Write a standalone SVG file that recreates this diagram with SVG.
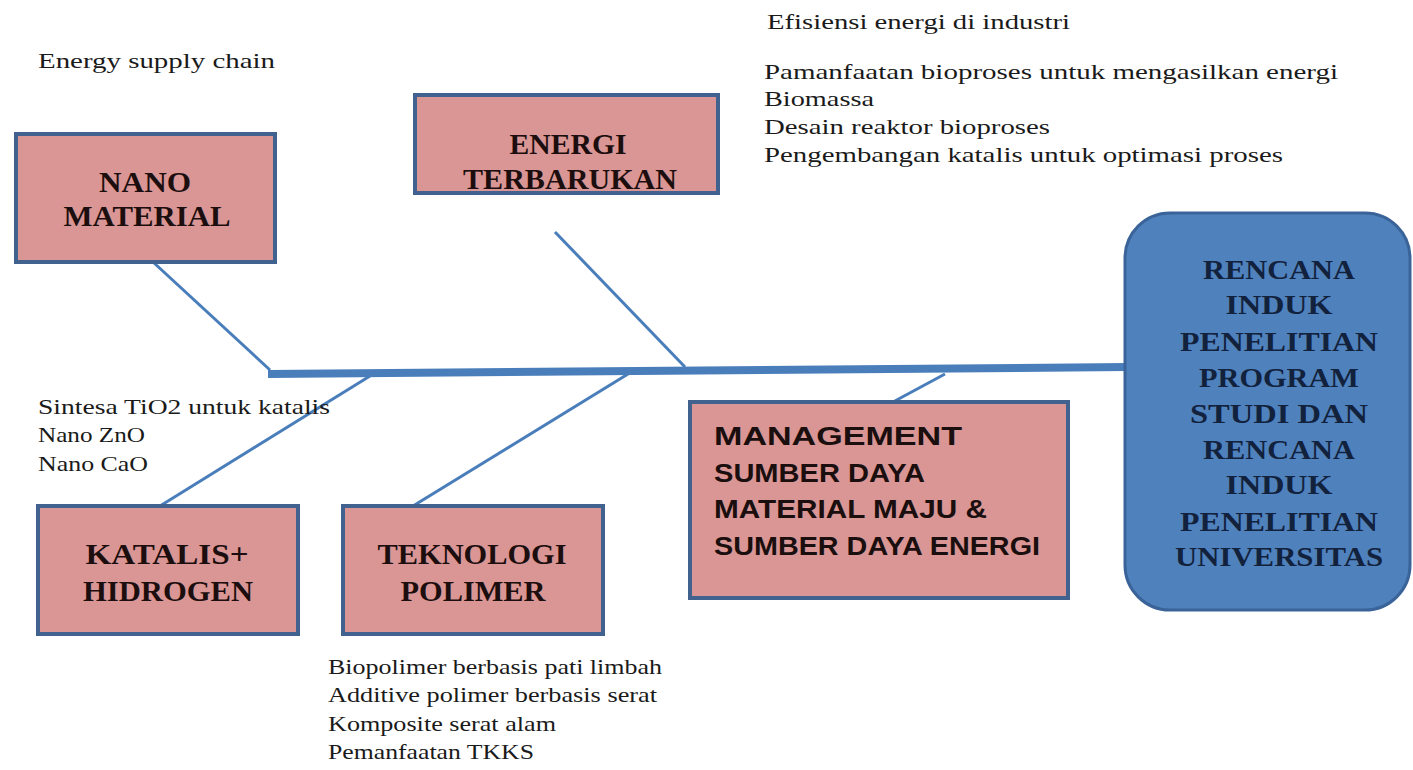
<svg xmlns="http://www.w3.org/2000/svg" width="1413" height="770" viewBox="0 0 1413 770">
<style>
.box{fill:#d99694;stroke:#41628f;stroke-width:4}
.main{fill:#4f81bd;stroke:#3a6499;stroke-width:3}
.bt{font-family:"Liberation Serif",serif;font-weight:bold;font-size:29px;fill:#1c0e0e;text-anchor:middle}
.rt{font-family:"Liberation Serif",serif;font-weight:bold;font-size:27px;fill:#12223c;text-anchor:middle}
.mt{font-family:"Liberation Sans",sans-serif;font-weight:bold;font-size:25px;fill:#1a0e0e}
.lt{font-family:"Liberation Serif",serif;font-size:21px;fill:#1a1a1a}
.bone{stroke:#4a7ebb;stroke-width:3;fill:none}
.spine{stroke:#4a7ebb;stroke-width:8;fill:none}
</style>
<rect width="1413" height="770" fill="#ffffff"/>
<g id="connectors">
<line class="spine" x1="268" y1="374" x2="1127" y2="367"/>
<line class="bone" x1="153" y1="262" x2="270" y2="370"/>
<line class="bone" x1="555" y1="232" x2="685" y2="367"/>
<line class="bone" x1="160" y1="506" x2="370" y2="376"/>
<line class="bone" x1="413" y1="506" x2="628" y2="374"/>
<line class="bone" x1="893" y1="402" x2="945" y2="374"/>
</g>
<g id="nano">
<rect class="box" x="16" y="134" width="259" height="128"/>
<text class="bt" x="145" y="192" textLength="92" lengthAdjust="spacingAndGlyphs">NANO</text>
<text class="bt" x="147" y="226" textLength="167" lengthAdjust="spacingAndGlyphs">MATERIAL</text>
</g>
<g id="energi">
<rect class="box" x="415" y="95" width="303" height="98"/>
<text class="bt" x="568" y="154" textLength="117" lengthAdjust="spacingAndGlyphs">ENERGI</text>
<text class="bt" x="570" y="189" textLength="214" lengthAdjust="spacingAndGlyphs">TERBARUKAN</text>
</g>
<g id="katalis">
<rect class="box" x="38" y="506" width="260" height="128"/>
<text class="bt" x="167" y="564" textLength="163" lengthAdjust="spacingAndGlyphs">KATALIS+</text>
<text class="bt" x="168" y="601" textLength="170" lengthAdjust="spacingAndGlyphs">HIDROGEN</text>
</g>
<g id="teknologi">
<rect class="box" x="343" y="506" width="260" height="128"/>
<text class="bt" x="472" y="564" textLength="189" lengthAdjust="spacingAndGlyphs">TEKNOLOGI</text>
<text class="bt" x="473" y="601" textLength="145" lengthAdjust="spacingAndGlyphs">POLIMER</text>
</g>
<g id="management">
<rect class="box" x="690" y="402" width="378" height="196"/>
<text class="mt" x="714" y="445" textLength="248" lengthAdjust="spacingAndGlyphs">MANAGEMENT</text>
<text class="mt" x="714" y="482" textLength="211" lengthAdjust="spacingAndGlyphs">SUMBER DAYA</text>
<text class="mt" x="714" y="518" textLength="273" lengthAdjust="spacingAndGlyphs">MATERIAL MAJU &amp;</text>
<text class="mt" x="714" y="555" textLength="326" lengthAdjust="spacingAndGlyphs">SUMBER DAYA ENERGI</text>
</g>
<g id="rencana">
<rect class="main" x="1125" y="213" width="285" height="397" rx="45" ry="45"/>
<text class="rt" x="1279" y="279" textLength="152" lengthAdjust="spacingAndGlyphs">RENCANA</text>
<text class="rt" x="1279" y="314" textLength="107" lengthAdjust="spacingAndGlyphs">INDUK</text>
<text class="rt" x="1279" y="351" textLength="198" lengthAdjust="spacingAndGlyphs">PENELITIAN</text>
<text class="rt" x="1279" y="387" textLength="160" lengthAdjust="spacingAndGlyphs">PROGRAM</text>
<text class="rt" x="1279" y="423" textLength="178" lengthAdjust="spacingAndGlyphs">STUDI DAN</text>
<text class="rt" x="1279" y="459" textLength="152" lengthAdjust="spacingAndGlyphs">RENCANA</text>
<text class="rt" x="1279" y="494" textLength="107" lengthAdjust="spacingAndGlyphs">INDUK</text>
<text class="rt" x="1279" y="531" textLength="198" lengthAdjust="spacingAndGlyphs">PENELITIAN</text>
<text class="rt" x="1279" y="566" textLength="208" lengthAdjust="spacingAndGlyphs">UNIVERSITAS</text>
</g>
<g id="labels">
<text class="lt" x="38" y="68" textLength="237" lengthAdjust="spacingAndGlyphs">Energy supply chain</text>
<text class="lt" x="767" y="29" textLength="303" lengthAdjust="spacingAndGlyphs">Efisiensi energi di industri</text>
<text class="lt" x="764" y="79" textLength="574" lengthAdjust="spacingAndGlyphs">Pamanfaatan bioproses untuk mengasilkan energi</text>
<text class="lt" x="764" y="106" textLength="110" lengthAdjust="spacingAndGlyphs">Biomassa</text>
<text class="lt" x="764" y="134" textLength="286" lengthAdjust="spacingAndGlyphs">Desain reaktor bioproses</text>
<text class="lt" x="764" y="162" textLength="519" lengthAdjust="spacingAndGlyphs">Pengembangan katalis untuk optimasi proses</text>
<text class="lt" x="38" y="414" textLength="292" lengthAdjust="spacingAndGlyphs">Sintesa TiO2 untuk katalis</text>
<text class="lt" x="38" y="442" textLength="107" lengthAdjust="spacingAndGlyphs">Nano ZnO</text>
<text class="lt" x="38" y="471" textLength="110" lengthAdjust="spacingAndGlyphs">Nano CaO</text>
<text class="lt" x="328" y="674" textLength="334" lengthAdjust="spacingAndGlyphs">Biopolimer berbasis pati limbah</text>
<text class="lt" x="328" y="702" textLength="329" lengthAdjust="spacingAndGlyphs">Additive polimer berbasis serat</text>
<text class="lt" x="328" y="731" textLength="228" lengthAdjust="spacingAndGlyphs">Komposite serat alam</text>
<text class="lt" x="328" y="759" textLength="206" lengthAdjust="spacingAndGlyphs">Pemanfaatan TKKS</text>
</g>
</svg>
